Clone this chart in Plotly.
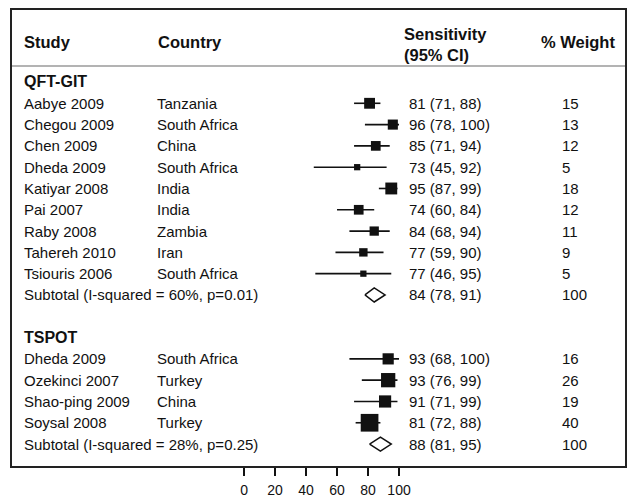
import plotly.graph_objects as go

# QFT-GIT studies
qft_study = ["Aabye 2009", "Chegou 2009", "Chen 2009", "Dheda 2009", "Katiyar 2008",
             "Pai 2007", "Raby 2008", "Tahereh 2010", "Tsiouris 2006"]
qft_country = ["Tanzania", "South Africa", "China", "South Africa", "India",
               "India", "Zambia", "Iran", "South Africa"]
qft_est = [81, 96, 85, 73, 95, 74, 84, 77, 77]
qft_lo = [71, 78, 71, 45, 87, 60, 68, 59, 46]
qft_hi = [88, 100, 94, 92, 99, 84, 94, 90, 95]
qft_weight = [15, 13, 12, 5, 18, 12, 11, 9, 5]
qft_sub = [84, 78, 91, 100]  # estimate, low, high, weight
qft_sub_label = "Subtotal (I-squared = 60%, p=0.01)"

# T-SPOT studies
tspot_study = ["Dheda 2009", "Ozekinci 2007", "Shao-ping 2009", "Soysal 2008"]
tspot_country = ["South Africa", "Turkey", "China", "Turkey"]
tspot_est = [93, 93, 91, 81]
tspot_lo = [68, 76, 71, 72]
tspot_hi = [100, 99, 99, 88]
tspot_weight = [16, 26, 19, 40]
tspot_sub = [88, 81, 95, 100]
tspot_sub_label = "Subtotal (I-squared = 28%, p=0.25)"

tick_vals = [0, 20, 40, 60, 80, 100]

FONT = "Liberation Sans, Arial, sans-serif"
INK = "#111111"

groups = [
    ("QFT-GIT", qft_study, qft_country, qft_est, qft_lo, qft_hi, qft_weight, qft_sub, qft_sub_label),
    ("TSPOT", tspot_study, tspot_country, tspot_est, tspot_lo, tspot_hi, tspot_weight, tspot_sub, tspot_sub_label),
]

# paper x of each text column
X_STUDY, X_COUNTRY, X_CI, X_W = 0.0163, 0.2335, 0.645, 0.8945

fig = go.Figure()
annotations = []


def text(x, y, s, bold=False, size=15):
    annotations.append(dict(
        x=x, y=y, xref="paper", yref="y", text=f"<b>{s}</b>" if bold else s,
        showarrow=False, xanchor="left", yanchor="middle", align="left",
        font=dict(family=FONT, size=size, color=INK)))


# header
text(X_STUDY, -1.88, "Study", bold=True, size=16.5)
text(0.2355, -1.88, "Country", bold=True, size=16.5)
text(0.636, -1.78, "Sensitivity<br>(95% CI)", bold=True, size=16.5)
text(0.859, -1.88, "% Weight", bold=True, size=16.5)

row = 0
ci_x, ci_y, sq_x, sq_y, sq_s = [], [], [], [], []
for name, study, country, est, lo, hi, w, sub, sub_label in groups:
    text(X_STUDY, row, name, bold=True, size=16)
    row += 1
    for i in range(len(study)):
        text(X_STUDY, row, study[i])
        text(X_COUNTRY, row, country[i])
        text(X_CI, row, f"{est[i]} ({lo[i]}, {hi[i]})")
        text(X_W, row, str(w[i]))
        ci_x += [lo[i], hi[i], None]
        ci_y += [row, row, None]
        sq_x.append(est[i])
        sq_y.append(row)
        sq_s.append(2.8 * w[i] ** 0.5)
        row += 1
    text(X_STUDY, row, sub_label)
    text(X_CI, row, f"{sub[0]} ({sub[1]}, {sub[2]})")
    text(X_W, row, str(sub[3]))
    h = 0.33
    fig.add_trace(go.Scatter(
        x=[sub[1], sub[0], sub[2], sub[0], sub[1]],
        y=[row, row - h, row, row + h, row],
        mode="lines", fill="toself", fillcolor="white",
        line=dict(color=INK, width=1.5), hoverinfo="skip"))
    row += 2

fig.add_trace(go.Scatter(x=ci_x, y=ci_y, mode="lines",
                         line=dict(color=INK, width=1.6), hoverinfo="skip"))
fig.add_trace(go.Scatter(x=sq_x, y=sq_y, mode="markers",
                         marker=dict(symbol="square", size=sq_s, color=INK,
                                     opacity=1, line=dict(width=0))))

# grey separator under the header
fig.add_shape(type="line", xref="paper", yref="y", x0=0, x1=1, y0=-0.75, y1=-0.75,
              line=dict(color="#9a9a9a", width=1.5))

fig.update_layout(
    width=632, height=498,
    margin=dict(l=12, r=7, t=10, b=32),
    plot_bgcolor="white", paper_bgcolor="white",
    showlegend=False,
    annotations=annotations,
    xaxis=dict(range=[-149.7, 245.8], tickvals=tick_vals, ticks="outside",
               ticklen=8, tickwidth=2, tickcolor=INK, showgrid=False, zeroline=False,
               showline=True, mirror=True, linecolor="#222222", linewidth=2,
               ticklabelstandoff=2, automargin=False,
               tickfont=dict(family=FONT, size=14, color=INK)),
    yaxis=dict(range=[18.03, -3.38], showticklabels=False, showgrid=False,
               zeroline=False, showline=True, mirror=True, linecolor="#222222",
               linewidth=2, ticks="", automargin=False),
)

# drop the browser's default 8px body margin so the figure sits at the page origin
fig.write_html("out.html", config={"displayModeBar": False},
               post_script="document.body.style.margin='0';")
